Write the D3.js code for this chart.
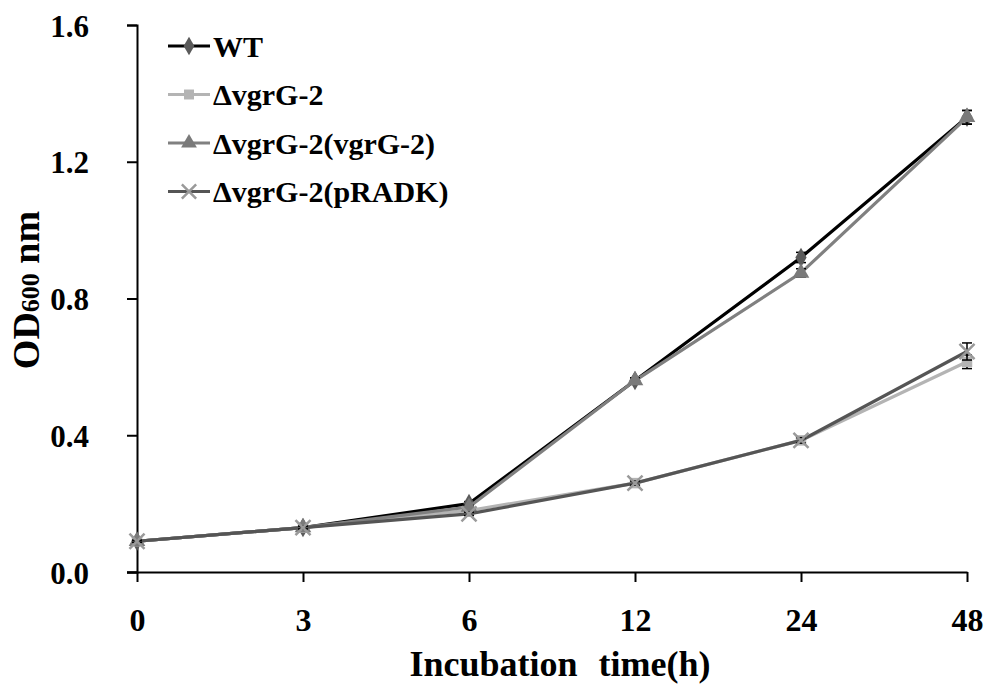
<!DOCTYPE html>
<html lang="en">
	<head>
		<meta charset="utf-8">
		<title>OD600 growth curves</title>
		<script type="text/javascript" src="https://d3js.org/d3.v7.min.js"></script>
		<style type="text/css">
			body{
				margin: 0;
				background: #fff;
			}
		</style>
	</head>
	<body>
		<script type="text/javascript">

			//Width and height
			var w = 985;
			var h = 684;
			var serif = "Liberation Serif";

			//Data
			var times = ["0", "3", "6", "12", "24", "48"];
			var yTicks = [0.0, 0.4, 0.8, 1.2, 1.6];
			var seriesNames = ["WT", "ΔvgrG-2", "ΔvgrG-2(vgrG-2)", "ΔvgrG-2(pRADK)"];
			var wt = [0.09, 0.13, 0.20, 0.56, 0.92, 1.33];
			var mutant = [0.09, 0.13, 0.18, 0.26, 0.385, 0.615];
			var complement = [0.09, 0.13, 0.19, 0.56, 0.875, 1.33];
			var vector = [0.09, 0.13, 0.17, 0.26, 0.385, 0.645];
			var wtErr = [0.003, 0.004, 0.006, 0.008, 0.015, 0.02];
			var mutantErr = [0.003, 0.004, 0.005, 0.006, 0.008, 0.02];
			var complementErr = [0.003, 0.004, 0.005, 0.008, 0.012, 0.02];
			var vectorErr = [0.003, 0.004, 0.005, 0.006, 0.008, 0.025];

			var series = [
				{name: seriesNames[0], values: wt, err: wtErr, line: "#000000", fill: "#5a5a5a", symbol: d3.symbolDiamond, size: 110},
				{name: seriesNames[1], values: mutant, err: mutantErr, line: "#b4b4b4", fill: "#b4b4b4", symbol: d3.symbolSquare, size: 110},
				{name: seriesNames[2], values: complement, err: complementErr, line: "#808080", fill: "#7a7a7a", symbol: d3.symbolTriangle, size: 120},
				{name: seriesNames[3], values: vector, err: vectorErr, line: "#555555", fill: "#9a9a9a", symbol: d3.symbolX, size: 150}
			];

			//Scales
			var xScale = d3.scalePoint()
							.domain(times)
							.range([137, 967]);

			var yScale = d3.scaleLinear()
							.domain([0, 1.6])
							.range([572, 25]);

			var svg = d3.select("body")
						.append("svg")
						.attr("width", w)
						.attr("height", h)
						.style("font-family", serif)
						.style("font-weight", "bold");

			//Axes
			var yAxis = d3.axisLeft(yScale)
						.tickValues(yTicks)
						.tickFormat(d3.format(".1f"))
						.tickSizeOuter(0)
						.tickSize(10)
						.tickPadding(38);

			var gy = svg.append("g")
				.attr("transform", "translate(137,0)")
				.call(yAxis);
			gy.select(".domain").attr("stroke", "#000").attr("stroke-width", 2);
			gy.selectAll(".tick line").attr("stroke", "#000").attr("stroke-width", 2);
			gy.selectAll(".tick text")
				.style("font-family", serif)
				.style("font-weight", "bold")
				.style("font-size", "31px")
				.attr("fill", "#000")
				.attr("dy", "0.36em");

			var xAxis = d3.axisBottom(xScale)
						.tickSizeOuter(0)
						.tickSize(10)
						.tickPadding(26);

			var gx = svg.append("g")
				.attr("transform", "translate(0,572)")
				.call(xAxis);
			gx.select(".domain")
				.attr("d", "M127,0.5H967.5")
				.attr("stroke", "#000").attr("stroke-width", 2);
			gx.selectAll(".tick line").attr("stroke", "#000").attr("stroke-width", 2);
			gx.selectAll(".tick text")
				.style("font-family", serif)
				.style("font-weight", "bold")
				.style("font-size", "32px")
				.attr("fill", "#000");

			//Axis titles
			svg.append("text")
				.attr("x", 560)
				.attr("y", 676)
				.attr("text-anchor", "middle")
				.style("font-size", "36px")
				.attr("fill", "#000")
				.style("word-spacing", "12px")
				.text("Incubation time(h)");

			var yTitle = svg.append("text")
				.attr("transform", "translate(39,290) rotate(-90)")
				.attr("text-anchor", "middle")
				.attr("fill", "#000")
				.style("font-size", "38px");
			yTitle.append("tspan").text("OD");
			yTitle.append("tspan").style("font-size", "26px").text("600");
			yTitle.append("tspan").text(" nm");

			//Lines
			var line = d3.line()
						.x(function(d, i) { return xScale(times[i]); })
						.y(function(d) { return yScale(d); });

			var groups = svg.selectAll("g.series")
				.data(series)
				.enter()
				.append("g")
				.attr("class", "series");

			groups.append("path")
				.attr("d", function(d) { return line(d.values); })
				.attr("fill", "none")
				.attr("stroke", function(d) { return d.line; })
				.attr("stroke-width", 3.2);

			//Error bars
			groups.each(function(s) {
				var g = d3.select(this);
				var eb = g.selectAll("g.err")
					.data(s.values.map(function(v, i) { return {v: v, e: s.err[i], t: times[i]}; }))
					.enter()
					.append("g")
					.attr("class", "err")
					.attr("stroke", "#000")
					.attr("stroke-width", 1.5);
				eb.append("line")
					.attr("x1", function(d) { return xScale(d.t); })
					.attr("x2", function(d) { return xScale(d.t); })
					.attr("y1", function(d) { return yScale(d.v - d.e); })
					.attr("y2", function(d) { return yScale(d.v + d.e); });
				eb.append("line")
					.attr("x1", function(d) { return xScale(d.t) - 5; })
					.attr("x2", function(d) { return xScale(d.t) + 5; })
					.attr("y1", function(d) { return yScale(d.v + d.e); })
					.attr("y2", function(d) { return yScale(d.v + d.e); });
				eb.append("line")
					.attr("x1", function(d) { return xScale(d.t) - 5; })
					.attr("x2", function(d) { return xScale(d.t) + 5; })
					.attr("y1", function(d) { return yScale(d.v - d.e); })
					.attr("y2", function(d) { return yScale(d.v - d.e); });

				//Markers
				g.selectAll("path.marker")
					.data(s.values)
					.enter()
					.append("path")
					.attr("class", "marker")
					.attr("d", d3.symbol().type(s.symbol).size(s.size))
					.attr("transform", function(d, i) {
						return "translate(" + xScale(times[i]) + "," + yScale(d) + ")";
					})
					.attr("fill", s.fill)
					.attr("stroke", s.symbol === d3.symbolX ? s.fill : "none")
					.attr("stroke-width", 2.5);
			});

			//Legend
			var legend = svg.selectAll("g.legend")
				.data(series)
				.enter()
				.append("g")
				.attr("class", "legend")
				.attr("transform", function(d, i) { return "translate(168," + (46 + i * 48.5) + ")"; });

			legend.append("line")
				.attr("x1", 0)
				.attr("x2", 42)
				.attr("stroke", function(d) { return d.line; })
				.attr("stroke-width", 3.2);

			legend.append("path")
				.attr("d", function(d) { return d3.symbol().type(d.symbol).size(d.size * 0.9)(); })
				.attr("transform", "translate(21,0)")
				.attr("fill", function(d) { return d.fill; })
				.attr("stroke", function(d) { return d.symbol === d3.symbolX ? d.fill : "none"; })
				.attr("stroke-width", 2.5);

			legend.append("text")
				.attr("x", 45)
				.attr("dy", "0.35em")
				.style("font-size", "30px")
				.attr("fill", "#000")
				.text(function(d) { return d.name; });

		</script>
	</body>
</html>
